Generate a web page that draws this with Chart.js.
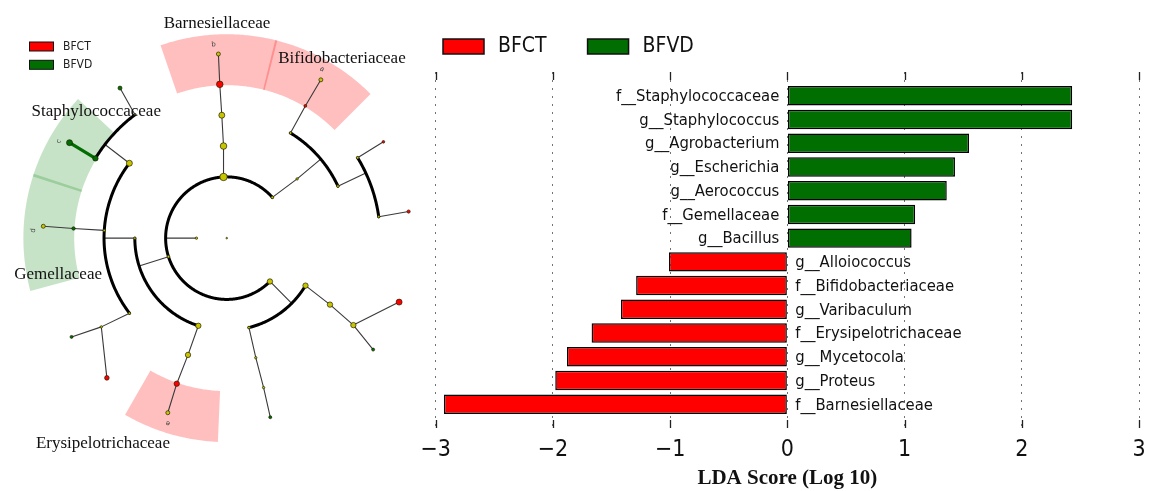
<!DOCTYPE html>
<html>
<head>
<meta charset="utf-8">
<script src="https://cdn.jsdelivr.net/npm/chart.js@4.4.0/dist/chart.umd.min.js"></script>
<style>
  html, body { margin: 0; padding: 0; background: #fff; }
  #wrap { position: relative; width: 1159px; height: 491px; overflow: hidden; }
  canvas { position: absolute; left: 0; top: 0; }
</style>
</head>
<body>
<div id="wrap">
  <canvas id="lda" width="1159" height="491"></canvas>
  <canvas id="clado" width="430" height="491"></canvas>
</div>
<script>
// ---------- LDA effect sizes ----------
const features = [
  'f__Staphylococcaceae', 'g__Staphylococcus', 'g__Agrobacterium', 'g__Escherichia',
  'g__Aerococcus', 'f__Gemellaceae', 'g__Bacillus',
  'g__Alloiococcus', 'f__Bifidobacteriaceae', 'g__Varibaculum', 'f__Erysipelotrichaceae',
  'g__Mycetocola', 'g__Proteus', 'f__Barnesiellaceae'
];
const groups = ['BFCT', 'BFVD'];
const ldaBFVD = [2.43, 2.43, 1.55, 1.43, 1.36, 1.09, 1.06];        // features 0..6
const ldaBFCT = [-1.01, -1.29, -1.42, -1.67, -1.88, -1.98, -2.93];  // features 7..13
const ldaTicks = [-3, -2, -1, 0, 1, 2, 3];

// ---------- cladogram (taxonomic tree) ----------
// parent index, taxonomic level, angular position (deg), enriched group, relative abundance
const cladeParent = [-1, -1, 1, 1, 1, 1, 2, 6, 6, 7, 9, 8, 8, 11, 12, 3, 15, 16, 17, 5, 5, 19, 21, 22, 22, 20, 25, 26,
                     4, 4, 28, 28, 28, 30, 30, 33, 34, 31, 37, 32, 39, 39, 29, 42, 43];
const cladeLevel  = [0, 1, 2, 2, 2, 2, 3, 4, 4, 5, 6, 5, 5, 6, 6, 3, 4, 5, 6, 3, 3, 4, 5, 6, 6, 4, 5, 6,
                     3, 3, 4, 4, 4, 5, 5, 6, 6, 5, 6, 5, 6, 6, 4, 5, 6];
const cladeAngle  = [0, 180, 41.7, 93, 197.6, 315, 40, 58.7, 25, 59.2, 59.2, 31.5, 8, 31.5, 8.3, 92, 92.3, 92.6, 92.6,
                     329, 284, 327.3, 325.6, 339.7, 322.8, 283.7, 283.9, 283.7,
                     180, 252, 142.5, 176.4, 217.6, 148.8, 126.7, 148.8, 125.5, 176.4, 176.3, 215.2, 212.4, 229.3,
                     251.6, 251, 251.3];
const cladeGroup  = ['', '', '', '', '', '', '', '', '', 'BFCT', '', '', '', 'BFCT', 'BFCT', '', '', 'BFCT', '',
                     '', '', '', '', 'BFCT', 'BFVD', '', '', 'BFVD',
                     '', '', '', '', '', 'BFVD', '', 'BFVD', 'BFVD', 'BFVD', '', '', 'BFVD', 'BFCT',
                     '', 'BFCT', ''];
const cladeAbundance = [0, 0.13, 0.17, 0.97, 0.17, 0.63, 0.13, 0.17, 0.17, 0.2, 0.4, 0.17, 0.13, 0.17, 0.27,
                        0.83, 0.73, 0.83, 0.4, 0.63, 0.17, 0.63, 0.63, 0.73, 0.23, 0.13, 0.13, 0.23,
                        0.13, 0.63, 0.73, 0.13, 0.13, 0.63, 0, 0.73, 0.4, 0.3, 0.4, 0.13, 0.23, 0.5,
                        0.63, 0.63, 0.4];

// highlighted clades
const hlName   = ['Barnesiellaceae', 'Bifidobacteriaceae', 'Staphylococcaceae', 'Gemellaceae', 'Erysipelotrichaceae'];
const hlNode   = [17, 9, 33, 37, 43];
const hlLetter = ['b', 'a', 'c', 'd', 'e'];
const hlFrom   = [75.6, 45, 137, 161.6, 240];
const hlTo     = [109, 76.2, 162.4, 195, 267.5];

// ---------- styling ----------
const groupColor = { BFCT: '#ff0000', BFVD: '#006e00' };
const bandColor  = { BFCT: 'rgba(255,0,0,0.25)', BFVD: 'rgba(0,128,0,0.22)' };
const NODE_YELLOW = '#c9c400';
const LEVEL_R = [0, 31, 62.5, 94, 125.5, 157, 188];
const BAND_OUTER = 208;
// clade label anchors (deg, radius)
const hlLabelPos = [[92.6, 219], [57.2, 217.6], [136.0, 185.5], [192.1, 176.4], [238.9, 245.2]];

const COND = '"DejaVu Sans Condensed", "DejaVu Sans", sans-serif';

// ---------- cladogram chart ----------
const polarXY = (deg, r) => ({ x: r * Math.cos(deg * Math.PI / 180), y: r * Math.sin(deg * Math.PI / 180) });
const cladeNodes = cladeAngle.map((a, i) => polarXY(a, LEVEL_R[cladeLevel[i]]));

const cladeDraw = {
  id: 'cladeDraw',
  beforeDatasetsDraw(chart) {
    const { ctx, scales: { x, y } } = chart;
    const P = (deg, r) => { const q = polarXY(deg, r); return [x.getPixelForValue(q.x), y.getPixelForValue(q.y)]; };
    const arcPath = (a0, a1, r, move) => {
      const n = Math.max(2, Math.ceil(Math.abs(a1 - a0) * 2));
      for (let k = 0; k <= n; k++) {
        const p = P(a0 + (a1 - a0) * k / n, r);
        if (k === 0 && move) ctx.moveTo(p[0], p[1]); else ctx.lineTo(p[0], p[1]);
      }
    };
    ctx.save();
    // shaded sectors of the enriched clades
    hlName.forEach((name, k) => {
      ctx.beginPath();
      arcPath(hlFrom[k], hlTo[k], BAND_OUTER, true);
      arcPath(hlTo[k], hlFrom[k], LEVEL_R[5] - 1, false);
      ctx.closePath();
      ctx.fillStyle = bandColor[cladeGroup[hlNode[k]]];
      ctx.fill();
    });
    // branches
    const kids = cladeParent.map(() => []);
    cladeParent.forEach((p, i) => { if (p >= 0) kids[p].push(i); });
    ctx.lineCap = 'round';
    kids.forEach((ch, p) => {
      if (!ch.length) return;
      const lp = cladeLevel[p], ap = cladeAngle[p];
      if (ch.length > 1 && lp <= 4) {
        const rc = LEVEL_R[cladeLevel[ch[0]]];
        const a = P(ap, LEVEL_R[lp]), b = P(ap, rc);
        ctx.beginPath(); ctx.moveTo(a[0], a[1]); ctx.lineTo(b[0], b[1]);
        ctx.strokeStyle = '#3a3a3a'; ctx.lineWidth = 1.1; ctx.stroke();
        const angs = ch.map(c => cladeAngle[c]);
        ctx.beginPath();
        arcPath(Math.min(...angs), Math.max(...angs), rc, true);
        ctx.strokeStyle = '#000'; ctx.lineWidth = 3; ctx.stroke();
      } else {
        ch.forEach(c => {
          const a = P(ap, LEVEL_R[lp]), b = P(cladeAngle[c], LEVEL_R[cladeLevel[c]]);
          const g = cladeGroup[c];
          const strong = g && g === cladeGroup[p];
          ctx.beginPath(); ctx.moveTo(a[0], a[1]); ctx.lineTo(b[0], b[1]);
          ctx.strokeStyle = strong ? groupColor[g] : '#3a3a3a';
          ctx.lineWidth = strong ? 3.2 : 1.1;
          ctx.stroke();
        });
      }
    });
    ctx.restore();
  },
  afterDraw(chart) {
    const { ctx, scales: { x, y } } = chart;
    const P = (deg, r) => { const q = polarXY(deg, r); return [x.getPixelForValue(q.x), y.getPixelForValue(q.y)]; };
    ctx.save();
    // clade letters
    ctx.fillStyle = '#444';
    ctx.font = '7px "DejaVu Sans", sans-serif';
    ctx.textAlign = 'center'; ctx.textBaseline = 'middle';
    hlLetter.forEach((t, k) => {
      const ang = cladeAngle[hlNode[k]] + 1.3;
      const p = P(ang, LEVEL_R[6] + 10);
      ctx.save(); ctx.translate(p[0], p[1]); ctx.rotate((90 - ang) * Math.PI / 180);
      ctx.fillText(t, 0, 0); ctx.restore();
    });
    // clade names
    ctx.fillStyle = '#111';
    ctx.font = '17px "Liberation Serif", "Times New Roman", serif';
    hlName.forEach((t, k) => {
      const p = P(hlLabelPos[k][0], hlLabelPos[k][1]);
      ctx.fillText(t, p[0], p[1]);
    });
    // group key
    ctx.textAlign = 'left';
    ctx.font = '12px ' + COND;
    groups.forEach((g, k) => {
      const top = 42 + k * 18.3;
      ctx.fillStyle = groupColor[g];
      ctx.fillRect(29.5, top, 24, 9);
      ctx.strokeStyle = '#111'; ctx.lineWidth = 1;
      ctx.strokeRect(29.5, top, 24, 9);
      ctx.fillStyle = '#222';
      ctx.fillText(g, 63, top + 5);
    });
    ctx.restore();
  }
};

new Chart(document.getElementById('clado'), {
  type: 'scatter',
  data: {
    datasets: [{
      data: cladeNodes,
      pointRadius: cladeAbundance.map(a => 0.8 + 3 * a),
      pointBackgroundColor: cladeGroup.map(g => g ? groupColor[g] : NODE_YELLOW),
      pointBorderColor: 'rgba(30,30,0,0.85)',
      pointBorderWidth: 0.8
    }]
  },
  options: {
    responsive: false,
    animation: false,
    events: [],
    layout: { padding: 0 },
    plugins: { legend: { display: false }, tooltip: { enabled: false } },
    scales: {
      x: { type: 'linear', display: false, min: -227, max: 203 },
      y: { type: 'linear', display: false, min: -253, max: 238 }
    }
  },
  plugins: [cladeDraw]
});

// ---------- LDA bar chart ----------
const ldaDecor = {
  id: 'ldaDecor',
  afterDatasetsDraw(chart) {
    const { ctx, scales: { x } } = chart;
    const zero = x.getPixelForValue(0);
    ctx.save();
    ctx.font = '16.5px ' + COND;
    ctx.fillStyle = '#111';
    ctx.textBaseline = 'middle';
    chart.data.datasets.forEach((ds, di) => {
      chart.getDatasetMeta(di).data.forEach((bar, i) => {
        const pt = ds.data[i];
        if (pt.x >= 0) { ctx.textAlign = 'right'; ctx.fillText(features[pt.y], zero - 8, bar.y + 1); }
        else { ctx.textAlign = 'left'; ctx.fillText(features[pt.y], zero + 8, bar.y + 1); }
      });
    });
    ctx.restore();
  },
  afterDraw(chart) {
    const { ctx, chartArea: ca, scales: { x } } = chart;
    ctx.save();
    // tick marks on the top and bottom edges
    ctx.strokeStyle = '#222'; ctx.lineWidth = 1.3;
    ldaTicks.forEach(v => {
      const px = Math.round(x.getPixelForValue(v)) + 0.5;
      ctx.beginPath();
      ctx.moveTo(px, ca.top); ctx.lineTo(px, ca.top + 8);
      ctx.moveTo(px, ca.bottom - 8); ctx.lineTo(px, ca.bottom);
      ctx.stroke();
    });
    // legend
    ctx.font = '21px ' + COND;
    ctx.textBaseline = 'middle'; ctx.textAlign = 'left';
    let lx = ca.left + 7.3;
    groups.forEach(g => {
      ctx.fillStyle = groupColor[g];
      ctx.fillRect(lx, 39, 41, 15);
      ctx.strokeStyle = '#111'; ctx.lineWidth = 1.5;
      ctx.strokeRect(lx, 39, 41, 15);
      ctx.fillStyle = '#111';
      ctx.fillText(g, lx + 55, 47);
      lx += 55 + ctx.measureText(g).width + 41;
    });
    ctx.restore();
  }
};

new Chart(document.getElementById('lda'), {
  type: 'bar',
  data: {
    datasets: [
      { label: 'BFCT', data: ldaBFCT.map((v, i) => ({ x: v, y: i + ldaBFVD.length })), backgroundColor: groupColor.BFCT },
      { label: 'BFVD', data: ldaBFVD.map((v, i) => ({ x: v, y: i })), backgroundColor: groupColor.BFVD }
    ]
  },
  options: {
    indexAxis: 'y',
    responsive: false,
    animation: false,
    events: [],
    layout: { padding: { left: 435.7, right: 20, top: 72, bottom: 0 } },
    datasets: {
      bar: {
        grouped: false,
        borderColor: '#000',
        borderWidth: 1.5,
        borderSkipped: false,
        barPercentage: 0.82,
        categoryPercentage: 1
      }
    },
    plugins: { legend: { display: false }, tooltip: { enabled: false } },
    scales: {
      x: {
        type: 'linear', position: 'bottom', min: -3, max: 3, z: 1,
        afterBuildTicks: s => { s.ticks = ldaTicks.map(v => ({ value: v })); },
        afterFit: s => { s.height = 63; s.paddingLeft = 0; s.paddingRight = 0; },
        grid: { color: 'rgba(0,0,0,0.55)', lineWidth: 1, drawTicks: false },
        border: { display: false, dash: [2, 6] },
        ticks: {
          padding: 8, color: '#111',
          font: { family: '"DejaVu Sans Condensed", "DejaVu Sans", sans-serif', size: 23 },
          callback: v => (v < 0 ? '\u2212' + Math.abs(v) : String(v))
        },
        title: {
          display: true, text: 'LDA Score (Log 10)', color: '#111',
          font: { family: '"Liberation Serif", "Times New Roman", serif', size: 21, weight: 'bold' },
          padding: { top: 0, bottom: 0 }
        }
      },
      y: { type: 'linear', display: false, reverse: true, offset: false, min: -1, max: 14, ticks: { stepSize: 1 } }
    }
  },
  plugins: [ldaDecor]
});
</script>
</body>
</html>
